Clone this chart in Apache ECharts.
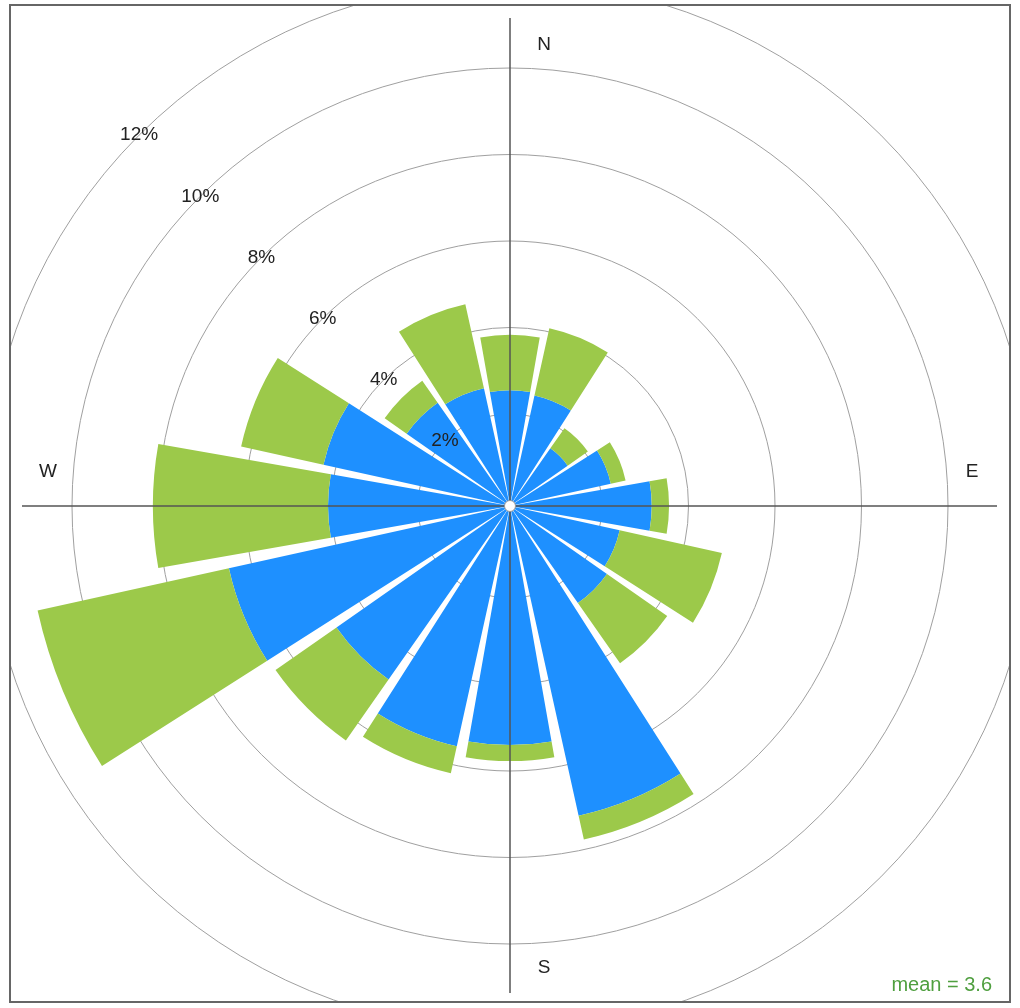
<!DOCTYPE html>
<html>
<head>
<meta charset="utf-8">
<script src="https://cdn.jsdelivr.net/npm/echarts@6/dist/echarts.min.js"></script>
<style>
html,body{margin:0;padding:0;background:#fff;}
#chart{width:1020px;height:1008px;}
</style>
</head>
<body>
<div id="chart"></div>
<script>
// Wind directions (16 sectors, clockwise from North)
const directions = ['N','NNE','NE','ENE','E','ESE','SE','SSE','S','SSW','SW','WSW','W','WNW','NW','NNW'];
// Lower wind-speed bin (blue), percent of time
const lowBin  = [2.55, 2.49, 1.50, 2.26, 3.15, 2.47, 2.61, 7.21, 5.40, 5.56, 4.77, 6.53, 4.08, 4.29, 2.79, 2.66];
// Upper wind-speed bin (green), stacked on top, percent of time
const highBin = [1.28, 1.59, 0.57, 0.35, 0.40, 2.42, 1.70, 0.56, 0.37, 0.64, 1.72, 4.53, 4.05, 1.95, 0.62, 1.99];
// Radial tick values (percent)
const radialTicks = [0, 2, 4, 6, 8, 10, 12];
const compassLabels = ['N', 'E', 'S', 'W'];
const meanLabel = 'mean = 3.6';

const cx = 510, cy = 506;
const r0 = 5.5, rMax = 524.5;
const FONT = '"Liberation Sans", Arial, Helvetica, sans-serif';

const chart = echarts.init(document.getElementById('chart'));

const option = {
  animation: false,
  backgroundColor: '#ffffff',
  polar: [
    { center: [cx, cy], radius: [r0, rMax] },
    { center: [cx, cy], radius: [r0, rMax] }
  ],
  angleAxis: [
    {
      polarIndex: 0,
      type: 'category',
      data: directions,
      startAngle: 90 + 360 / directions.length / 2,
      clockwise: true,
      boundaryGap: true,
      z: 0,
      axisLine: { show: false },
      axisTick: { show: false },
      axisLabel: { show: false },
      splitLine: { show: false },
      splitArea: { show: false }
    },
    {
      polarIndex: 1,
      type: 'value',
      min: 0, max: 360,
      startAngle: 135,
      z: 0,
      axisLine: { show: false },
      axisTick: { show: false },
      axisLabel: { show: false },
      splitLine: { show: false },
      splitArea: { show: false }
    }
  ],
  radiusAxis: [
    {
      polarIndex: 0,
      type: 'value',
      min: radialTicks[0],
      max: radialTicks[radialTicks.length - 1],
      interval: 2,
      z: 0,
      axisLine: { show: false },
      axisTick: { show: false },
      axisLabel: { show: false },
      minorTick: { show: false },
      minorSplitLine: { show: false },
      splitLine: { show: true, lineStyle: { color: '#a0a0a0', width: 1 } }
    },
    {
      polarIndex: 1,
      type: 'value',
      min: radialTicks[0],
      max: radialTicks[radialTicks.length - 1],
      interval: 2,
      z: 50,
      axisLine: { show: false },
      axisTick: { show: false },
      splitLine: { show: false },
      axisLabel: {
        show: true,
        margin: 0,
        rotate: 0,
        align: 'center',
        verticalAlign: 'middle',
        fontFamily: FONT,
        fontSize: 19,
        color: '#222',
        formatter: function (v) { return v === 0 ? '' : v + '%'; }
      }
    }
  ],
  series: [
    {
      name: 'low',
      type: 'bar',
      coordinateSystem: 'polar',
      polarIndex: 0,
      stack: 'ws',
      data: lowBin,
      barCategoryGap: '11%',
      itemStyle: { color: '#1e90ff' },
      z: 10
    },
    {
      name: 'high',
      type: 'bar',
      coordinateSystem: 'polar',
      polarIndex: 0,
      stack: 'ws',
      data: highBin,
      barCategoryGap: '11%',
      itemStyle: { color: '#9cc94a' },
      z: 10
    }
  ],
  graphic: [
    // cross-hair axes
    { type: 'line', z: 100, shape: { x1: 22, y1: cy, x2: 997, y2: cy }, style: { stroke: '#555', lineWidth: 1.5 } },
    { type: 'line', z: 100, shape: { x1: cx, y1: 18, x2: cx, y2: 993 }, style: { stroke: '#555', lineWidth: 1.5 } },
    // centre circle
    { type: 'circle', z: 101, shape: { cx: cx, cy: cy, r: r0 }, style: { fill: '#fff', stroke: '#999', lineWidth: 1 } },
    // compass labels
    { type: 'text', z: 102, x: cx + 34, y: cy - 461, style: { text: compassLabels[0], font: '19px ' + FONT, fill: '#222', align: 'center', verticalAlign: 'middle' } },
    { type: 'text', z: 102, x: cx + 462, y: cy - 34, style: { text: compassLabels[1], font: '19px ' + FONT, fill: '#222', align: 'center', verticalAlign: 'middle' } },
    { type: 'text', z: 102, x: cx + 34, y: cy + 462, style: { text: compassLabels[2], font: '19px ' + FONT, fill: '#222', align: 'center', verticalAlign: 'middle' } },
    { type: 'text', z: 102, x: cx - 462, y: cy - 34, style: { text: compassLabels[3], font: '19px ' + FONT, fill: '#222', align: 'center', verticalAlign: 'middle' } },
    // masks outside panel box
    { type: 'rect', z: 200, shape: { x: 0, y: 0, width: 1020, height: 5 }, style: { fill: '#fff' } },
    { type: 'rect', z: 200, shape: { x: 0, y: 1002, width: 1020, height: 6 }, style: { fill: '#fff' } },
    { type: 'rect', z: 200, shape: { x: 0, y: 0, width: 10, height: 1008 }, style: { fill: '#fff' } },
    { type: 'rect', z: 200, shape: { x: 1010, y: 0, width: 10, height: 1008 }, style: { fill: '#fff' } },
    // panel border
    { type: 'rect', z: 201, shape: { x: 10, y: 5, width: 1000, height: 997 }, style: { fill: 'none', stroke: '#666', lineWidth: 2 } },
    // mean annotation
    { type: 'text', z: 202, x: 992, y: 985, style: { text: meanLabel, font: '20px ' + FONT, fill: '#4f9f3f', align: 'right', verticalAlign: 'middle' } }
  ]
};

chart.setOption(option);
</script>
</body>
</html>
